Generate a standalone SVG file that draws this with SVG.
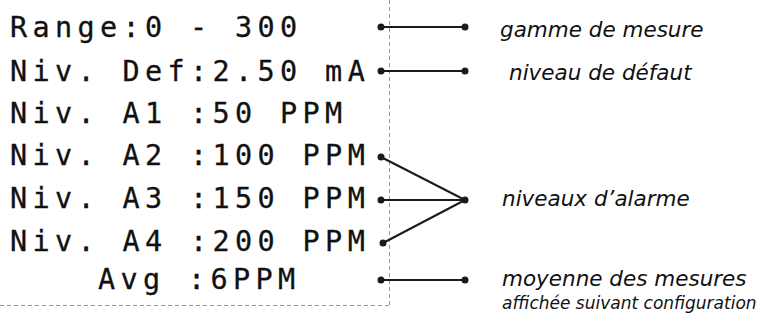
<svg xmlns="http://www.w3.org/2000/svg" width="764" height="320" viewBox="0 0 764 320">
  <style>
    .lcd { font-family: "DejaVu Sans Mono", "Liberation Mono", monospace; font-size: 28.5px; letter-spacing: 5.35px; fill: #111; stroke: #111; stroke-width: 0.3px; }
    .lbl { font-family: "DejaVu Sans", "Noto Sans", sans-serif; font-style: italic; font-size: 21.5px; fill: #111; }
    .small { font-size: 17px; }
    .frame { fill: none; stroke: #9a9a9a; stroke-width: 1; stroke-dasharray: 4 3; }
    .wire { fill: none; stroke: #1a1a1a; stroke-width: 2; }
    .dot { fill: #1a1a1a; }
  </style>

  <!-- display frame edges -->
  <g id="frame">
    <line class="frame" x1="389.5" y1="0" x2="389.5" y2="305.5"/>
    <line class="frame" x1="0" y1="305.5" x2="389.5" y2="305.5"/>
  </g>

  <!-- display lines -->
  <g id="line-range"><text class="lcd" x="10" y="37">Range:0 - 300</text></g>
  <g id="line-def"><text class="lcd" x="10" y="81">Niv. Def:2.50 mA</text></g>
  <g id="line-a1"><text class="lcd" x="10" y="123">Niv. A1 :50 PPM</text></g>
  <g id="line-a2"><text class="lcd" x="10" y="165">Niv. A2 :100 PPM</text></g>
  <g id="line-a3"><text class="lcd" x="10" y="208">Niv. A3 :150 PPM</text></g>
  <g id="line-a4"><text class="lcd" x="10" y="251">Niv. A4 :200 PPM</text></g>
  <g id="line-avg"><text class="lcd" x="98" y="289">Avg :6PPM</text></g>

  <!-- labels -->
  <g id="label-range"><text class="lbl" x="500" y="37">gamme de mesure</text></g>
  <g id="label-def"><text class="lbl" x="509" y="80">niveau de défaut</text></g>
  <g id="label-alarm"><text class="lbl" x="502" y="206">niveaux d’alarme</text></g>
  <g id="label-avg">
    <text class="lbl" x="502" y="286">moyenne des mesures</text>
    <text class="lbl small" x="502" y="309">affichée suivant configuration</text>
  </g>

  <!-- connectors -->
  <g id="connectors">
    <line class="wire" x1="381" y1="27" x2="465" y2="27"/>
    <line class="wire" x1="381" y1="71" x2="465" y2="71"/>
    <line class="wire" x1="381" y1="157" x2="465" y2="200"/>
    <line class="wire" x1="381" y1="200" x2="465" y2="200"/>
    <line class="wire" x1="383" y1="243" x2="465" y2="200"/>
    <line class="wire" x1="381" y1="280" x2="465" y2="280"/>
    <circle class="dot" cx="381" cy="27" r="3.5"/>
    <circle class="dot" cx="465" cy="27" r="3.5"/>
    <circle class="dot" cx="381" cy="71" r="3.5"/>
    <circle class="dot" cx="465" cy="71" r="3.5"/>
    <circle class="dot" cx="381" cy="157" r="3.5"/>
    <circle class="dot" cx="381" cy="200" r="3.5"/>
    <circle class="dot" cx="383" cy="243" r="3.5"/>
    <circle class="dot" cx="465" cy="200" r="3.5"/>
    <circle class="dot" cx="381" cy="280" r="3.5"/>
    <circle class="dot" cx="465" cy="280" r="3.5"/>
  </g>
</svg>
